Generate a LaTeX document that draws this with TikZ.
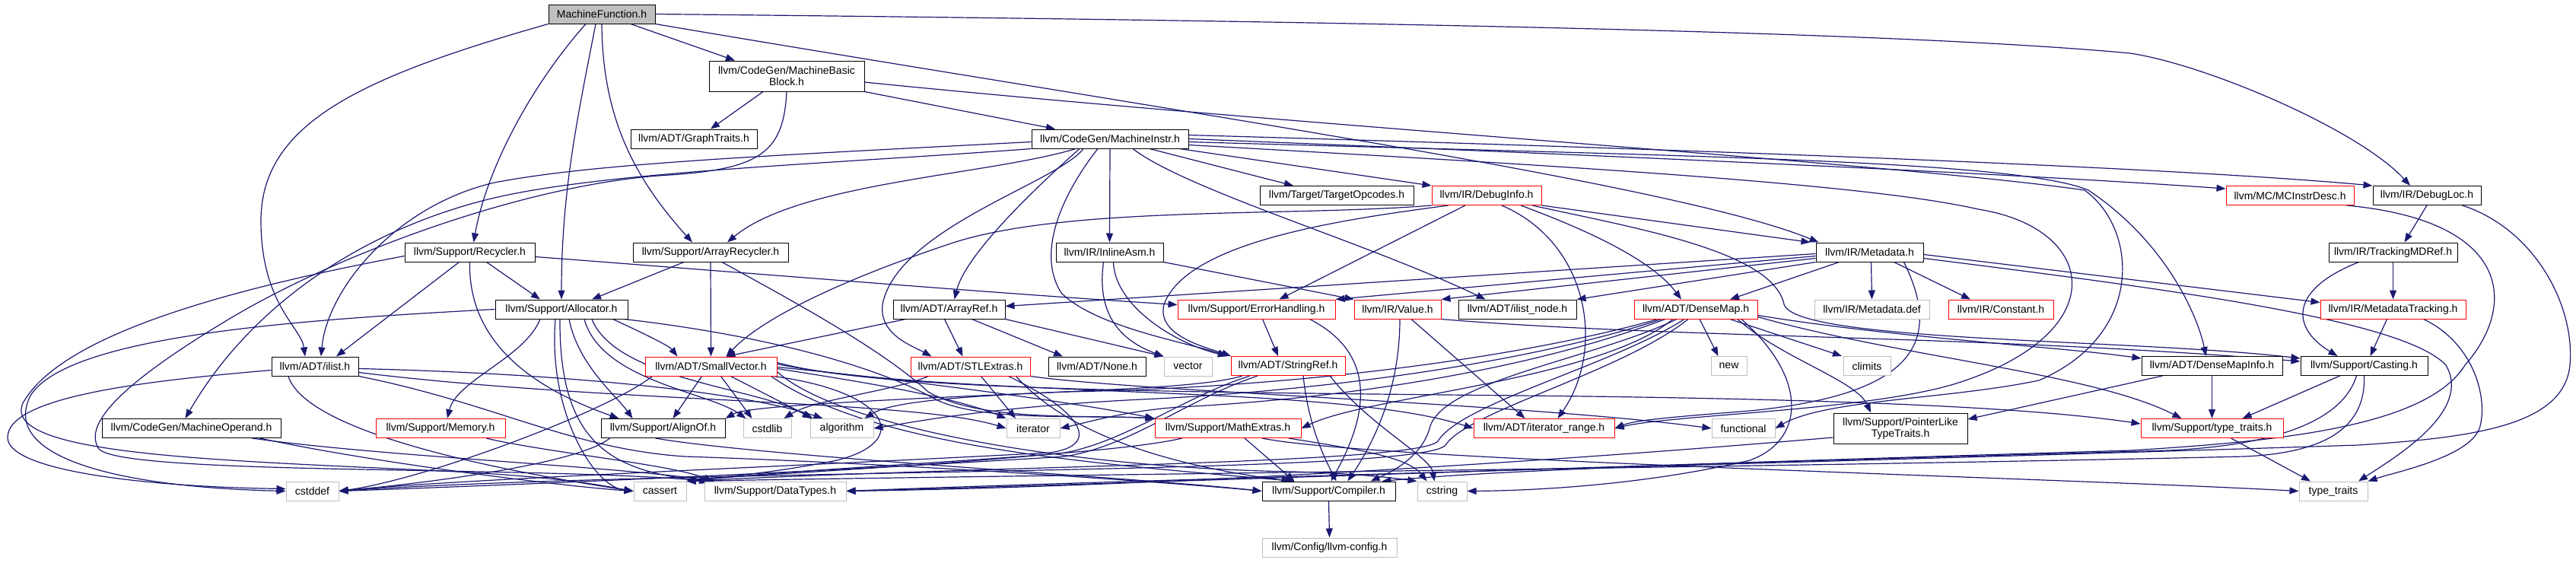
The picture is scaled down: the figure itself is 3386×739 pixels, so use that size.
\documentclass[tikz,border=0pt]{standalone}
\usepackage{fontspec}
\setmainfont{Liberation Sans}
\usetikzlibrary{arrows.meta}
\definecolor{eblue}{HTML}{191970}
\definecolor{gry}{HTML}{BFBFBF}
\definecolor{rdc}{HTML}{FF0000}
\pgfdeclarelayer{bg}
\pgfsetlayers{bg,main}
\begin{document}
\begin{tikzpicture}[x=1pt,y=-1pt,
 nd/.style={draw=black,line width=1.0pt,fill=white,rectangle,inner sep=0pt,minimum height=25pt,align=center,font={\fontsize{14}{15}\selectfont}},
 rdn/.style={nd,draw=rdc},
 gyn/.style={nd,draw=gry},
 edg/.style={draw=eblue,line width=1.2pt,-{Triangle[length=12pt,width=9pt]}}]
\useasboundingbox (0,0) rectangle (3386,739);
% nodes
\node[nd,fill=gry,minimum width=140pt] (MF) at (791,18.5) {MachineFunction.h};
\node[nd,minimum width=204pt,minimum height=40pt] (MBB) at (1034,100) {llvm/CodeGen/MachineBasic\\Block.h};
\node[nd,minimum width=166pt] (GT) at (912,182.5) {llvm/ADT/GraphTraits.h};
\node[nd,minimum width=206pt] (MI) at (1459,182.5) {llvm/CodeGen/MachineInstr.h};
\node[nd,minimum width=202pt] (TO) at (1757,257) {llvm/Target/TargetOpcodes.h};
\node[rdn,minimum width=144pt] (DI) at (1954,257) {llvm/IR/DebugInfo.h};
\node[rdn,minimum width=168pt] (MCID) at (3010,257) {llvm/MC/MCInstrDesc.h};
\node[nd,minimum width=142pt] (DL) at (3190,257) {llvm/IR/DebugLoc.h};
\node[nd,minimum width=171pt] (REC) at (617.5,331.5) {llvm/Support/Recycler.h};
\node[nd,minimum width=204pt] (AREC) at (934,331.5) {llvm/Support/ArrayRecycler.h};
\node[nd,minimum width=141pt] (IA) at (1458.5,331.5) {llvm/IR/InlineAsm.h};
\node[nd,minimum width=141pt] (MD) at (2457.5,331.5) {llvm/IR/Metadata.h};
\node[nd,minimum width=169pt] (TMD) at (3145.5,331.5) {llvm/IR/TrackingMDRef.h};
\node[nd,minimum width=174pt] (ALLOC) at (738,406.5) {llvm/Support/Allocator.h};
\node[nd,minimum width=147pt] (AR) at (1247.5,406.5) {llvm/ADT/ArrayRef.h};
\node[rdn,minimum width=207pt] (EH) at (1651.5,406.5) {llvm/Support/ErrorHandling.h};
\node[rdn,minimum width=114pt] (VAL) at (1837,406.5) {llvm/IR/Value.h};
\node[nd,minimum width=155pt] (ILN) at (1994.5,406.5) {llvm/ADT/ilist\_node.h};
\node[rdn,minimum width=162pt] (DM) at (2229,406.5) {llvm/ADT/DenseMap.h};
\node[gyn,minimum width=151pt] (MDDEF) at (2460.5,406.5) {llvm/IR/Metadata.def};
\node[rdn,minimum width=138pt] (CONST) at (2630,406.5) {llvm/IR/Constant.h};
\node[rdn,minimum width=191pt] (MDT) at (3145.5,406.5) {llvm/IR/MetadataTracking.h};
\node[nd,minimum width=114pt] (ILIST) at (414,481.5) {llvm/ADT/ilist.h};
\node[rdn,minimum width=173pt] (SV) at (934.5,481.5) {llvm/ADT/SmallVector.h};
\node[rdn,minimum width=157pt] (STL) at (1275.5,481.5) {llvm/ADT/STLExtras.h};
\node[nd,minimum width=128pt] (NONE) at (1442,481.5) {llvm/ADT/None.h};
\node[gyn,minimum width=63pt] (VEC) at (1561.5,481.5) {vector};
\node[rdn,minimum width=150pt] (SR) at (1693,481) {llvm/ADT/StringRef.h};
\node[gyn,minimum width=47pt] (NEW) at (2272.5,481) {new};
\node[gyn,minimum width=62pt] (CLIM) at (2454,481) {climits};
\node[nd,minimum width=185pt] (DMI) at (2907.5,481) {llvm/ADT/DenseMapInfo.h};
\node[nd,minimum width=167pt] (CAST) at (3107.5,481) {llvm/Support/Casting.h};
\node[nd,minimum width=235pt] (MO) at (251.5,563) {llvm/CodeGen/MachineOperand.h};
\node[rdn,minimum width=170pt] (MEM) at (579,563) {llvm/Support/Memory.h};
\node[nd,minimum width=163pt] (ALIGN) at (871.5,563) {llvm/Support/AlignOf.h};
\node[gyn,minimum width=63pt] (CSTDLIB) at (1008.5,563) {cstdlib};
\node[gyn,minimum width=83pt] (ALGO) at (1106.5,563) {algorithm};
\node[gyn,minimum width=70pt] (ITER) at (1358,563) {iterator};
\node[rdn,minimum width=192pt] (MATH) at (1614,563) {llvm/Support/MathExtras.h};
\node[rdn,minimum width=185pt] (ITR) at (2029.5,563) {llvm/ADT/iterator\_range.h};
\node[gyn,minimum width=83pt] (FUNC) at (2291.5,563) {functional};
\node[nd,minimum width=176pt,minimum height=40pt] (PLTT) at (2498,563) {llvm/Support/PointerLike\\TypeTraits.h};
\node[rdn,minimum width=187pt] (TT) at (2907.5,563) {llvm/Support/type\_traits.h};
\node[gyn,minimum width=69pt] (CSTDDEF) at (410.5,645.5) {cstddef};
\node[gyn,minimum width=69pt] (CASSERT) at (867.5,645.5) {cassert};
\node[gyn,minimum width=186pt] (DT) at (1019,645.5) {llvm/Support/DataTypes.h};
\node[nd,minimum width=175pt] (COMP) at (1746.5,645.5) {llvm/Support/Compiler.h};
\node[gyn,minimum width=65pt] (CSTRING) at (1895.5,645.5) {cstring};
\node[gyn,minimum width=90pt] (TYTR) at (3067,645.5) {type\_traits};
\node[gyn,minimum width=177pt] (CFG) at (1747.5,719.5) {llvm/Config/llvm-config.h};
\begin{pgfonlayer}{bg}
% MachineFunction.h
\draw[edg] (MF.south west) .. controls (480,100) and (343,160) .. (343,290) .. controls (343,400) and (396,430) .. ([xshift=-13pt]ILIST.north);
\draw[edg] ([xshift=-21pt]MF.south) .. controls (700,110) and (640,220) .. ([xshift=5pt]REC.north);
\draw[edg] ([xshift=-8pt]MF.south) .. controls (760,150) and (738,250) .. (ALLOC.north);
\draw[edg] (MF.south) .. controls (792,150) and (830,230) .. ([xshift=-24pt]AREC.north);
\draw[edg] ([xshift=38pt]MF.south) -- ([xshift=-68pt]MBB.north);
\draw[edg] (MF.east) .. controls (1800,28) and (2500,42) .. (2800,70) .. controls (2900,85) and (3100,170) .. ([xshift=-22pt]DL.north);
\draw[edg] (MF.south east) .. controls (1500,140) and (2200,240) .. ([xshift=-67pt]MD.north);
% MachineBasicBlock.h
\draw[edg] ([xshift=-31pt]MBB.south) -- ([xshift=22pt]GT.north);
\draw[edg] (MBB.south east) -- ([xshift=-72pt]MI.north);
\draw[edg] (MBB.south) .. controls (1030,200) and (1000,222) .. (880,230) .. controls (700,240) and (450,330) .. (300,420) .. controls (150,510) and (110,560) .. (130,590) .. controls (160,625) and (700,612) .. ([xshift=-88pt]DT.north);
\draw[edg] ([yshift=-8pt]MBB.east) .. controls (1700,165) and (2500,215) .. (2740,250) .. controls (2810,300) and (2820,440) .. (2680,500) .. controls (2560,525) and (2400,525) .. (FUNC.east);
% MachineInstr.h
\draw[edg] ([yshift=-4pt]MI.west) .. controls (1000,205) and (780,215) .. (650,240) .. controls (520,270) and (430,380) .. ([xshift=8pt]ILIST.north);
\draw[edg] (MI.south west) .. controls (1100,215) and (800,225) .. (650,260) .. controls (480,300) and (330,400) .. ([xshift=-8pt]MO.north);
\draw[edg] ([xshift=-45pt]MI.south) .. controls (1300,230) and (1050,240) .. ([xshift=22pt]AREC.north);
\draw[edg] ([xshift=-40pt]MI.south) .. controls (1380,230) and (1270,330) .. ([xshift=7pt]AR.north);
\draw[edg] ([xshift=-35pt]MI.south) .. controls (1390,240) and (1180,300) .. (1160,400) .. controls (1155,440) and (1200,455) .. ([xshift=-51pt]STL.north);
\draw[edg] ([xshift=-16pt]MI.south) .. controls (1400,250) and (1360,330) .. (1395,385) .. controls (1440,430) and (1560,450) .. ([xshift=-80pt]SR.north);
\draw[edg] (MI.south) -- (IA.north);
\draw[edg] ([xshift=30pt]MI.south) .. controls (1560,250) and (1800,320) .. ([xshift=-42pt]ILN.north);
\draw[edg] ([xshift=52pt]MI.south) -- ([xshift=-57pt]TO.north);
\draw[edg] ([xshift=-12pt]MI.south east) -- (DI.north west);
\draw[edg] (MI.east) .. controls (2000,200) and (2600,225) .. ([yshift=9pt]MCID.west);
\draw[edg] ([yshift=5pt]MI.east) .. controls (2000,190) and (2800,215) .. (DL.north west);
\draw[edg] ([yshift=-4pt]MI.east) .. controls (2200,205) and (2650,210) .. (2745,250) .. controls (2850,320) and (2890,420) .. ([xshift=-8pt]DMI.north);
\draw[edg] ([yshift=-8pt]MI.east) .. controls (2000,215) and (2450,240) .. (2600,275) .. controls (2760,300) and (2780,440) .. (2568,505) .. controls (2450,540) and (2200,545) .. (ITR.east);
% Recycler.h
\draw[edg] ([xshift=-14pt]REC.south) -- ([xshift=28pt]ILIST.north);
\draw[edg] ([xshift=22pt]REC.south) -- ([xshift=-28pt]ALLOC.north);
\draw[edg] ([yshift=-6pt]REC.east) .. controls (1000,360) and (1300,385) .. ([yshift=6pt]EH.west);
\draw[edg] (REC.south) .. controls (615,450) and (700,510) .. ([xshift=-58pt]ALIGN.north);
\draw[edg] ([yshift=-5pt]REC.west) .. controls (300,380) and (80,440) .. (30,530) .. controls (0,600) and (300,605) .. (600,620) .. controls (750,628) and (800,640) .. (CASSERT.west);
% Allocator.h
\draw[edg] ([xshift=-20pt]ALLOC.south east) .. controls (850,440) and (880,455) .. ([xshift=-44pt]SV.north);
\draw[edg] ([xshift=-28pt]ALLOC.south) .. controls (690,470) and (600,500) .. ([xshift=9pt]MEM.north);
\draw[edg] ([xshift=10pt]ALLOC.south) .. controls (760,480) and (810,520) .. ([xshift=-40pt]ALIGN.north);
\draw[edg] ([xshift=40pt]ALLOC.south) .. controls (810,500) and (1000,510) .. ([xshift=-40pt]ALGO.north);
\draw[edg] ([xshift=30pt]ALLOC.south) .. controls (790,500) and (930,515) .. ([xshift=-28pt]CSTDLIB.north);
\draw[edg] ([xshift=-8pt]ALLOC.south) .. controls (720,540) and (780,640) .. (CASSERT.west);
\draw[edg] ([xshift=-2pt]ALLOC.south) .. controls (735,580) and (800,620) .. ([xshift=-85pt]DT.north);
\draw[edg] ([xshift=-5pt]ALLOC.south east) .. controls (1000,440) and (1150,480) .. (1230,525) .. controls (1290,555) and (1430,545) .. (MATH.north west);
\draw[edg] (ALLOC.west) .. controls (400,420) and (90,440) .. (40,520) .. controls (0,600) and (150,640) .. (CSTDDEF.west);
% ArrayRecycler.h
\draw[edg] ([xshift=-35pt]AREC.south) -- ([xshift=40pt]ALLOC.north);
\draw[edg] (AREC.south) -- (SV.north);
\draw[edg] ([xshift=15pt]AREC.south) .. controls (1050,400) and (1160,460) .. (1220,515) .. controls (1290,555) and (1430,545) .. (MATH.north west);
% ilist.h
\draw[edg] ([yshift=-5pt]ILIST.west) .. controls (200,500) and (10,520) .. (10,575) .. controls (10,620) and (200,640) .. ([yshift=3pt]CSTDDEF.west);
\draw[edg] ([yshift=-3pt]ILIST.east) .. controls (700,490) and (960,510) .. ([xshift=-25pt]ALGO.north);
\draw[edg] ([yshift=-8pt]ILIST.east) .. controls (800,530) and (1200,525) .. (ITER.west);
\draw[edg] (ILIST.south east) .. controls (650,530) and (750,590) .. (900,600) .. controls (1200,610) and (1550,635) .. (COMP.west);
\draw[edg] ([xshift=-35pt]ILIST.south) .. controls (400,560) and (600,610) .. (CASSERT.west);
% MachineOperand.h, Memory.h, AlignOf.h
\draw[edg] ([xshift=80pt]MO.south) .. controls (500,600) and (800,612) .. ([xshift=-80pt]DT.north);
\draw[edg] ([xshift=90pt]MO.south) .. controls (500,610) and (750,640) .. (CASSERT.west);
\draw[edg] ([xshift=60pt]MEM.south) .. controls (720,595) and (880,610) .. ([xshift=-82pt]DT.north);
\draw[edg] ([xshift=-70pt]ALIGN.south) .. controls (760,610) and (560,635) .. (CSTDDEF.east);
\draw[edg] ([xshift=-10pt]ALIGN.south) .. controls (1000,600) and (1500,628) .. (COMP.west);
% SmallVector.h
\draw[edg] ([xshift=-12pt]SV.south) -- ([xshift=13pt]ALIGN.north);
\draw[edg] ([xshift=13pt]SV.south) -- ([xshift=-20pt]CSTDLIB.north);
\draw[edg] ([xshift=26pt]SV.south) -- ([xshift=-38pt]ALGO.north);
\draw[edg] ([yshift=-3pt]SV.east) .. controls (1120,500) and (1250,520) .. (ITER.north west);
\draw[edg] ([yshift=-1pt]SV.east) .. controls (1200,500) and (1420,530) .. (MATH.north west);
\draw[edg] ([yshift=3pt]SV.east) .. controls (1150,505) and (1400,510) .. (1600,520) .. controls (1800,530) and (1880,545) .. (ITR.west);
\draw[edg] ([yshift=5pt]SV.east) .. controls (1150,512) and (1500,515) .. (2000,520) .. controls (2500,525) and (2700,540) .. ([yshift=6pt]TT.west);
\draw[edg] ([xshift=-8pt]SV.south east) .. controls (1150,590) and (1450,610) .. ([xshift=-45pt]COMP.north);
\draw[edg] ([yshift=-7pt]SV.east) .. controls (1100,560) and (1400,615) .. (1700,620) .. controls (1780,622) and (1830,628) .. (CSTRING.north west);
\draw[edg] ([xshift=-5pt]SV.south east) .. controls (1170,515) and (1200,580) .. (1100,605) .. controls (1000,625) and (930,628) .. (CASSERT.north east);
\draw[edg] ([xshift=10pt]SV.south west) .. controls (800,540) and (560,630) .. (CSTDDEF.east);
% STLExtras.h
\draw[edg] ([xshift=-55pt]STL.south) .. controls (1170,515) and (1070,525) .. ([xshift=22pt]CSTDLIB.north);
\draw[edg] ([xshift=14pt]STL.south) -- ([xshift=-23pt]ITER.north);
\draw[edg] (STL.south east) .. controls (1500,515) and (2000,530) .. (FUNC.west);
\draw[edg] ([xshift=50pt]STL.south) .. controls (1420,540) and (1450,585) .. (1380,595) .. controls (1000,615) and (600,630) .. (CSTDDEF.east);
\draw[edg] ([xshift=60pt]STL.south) .. controls (1420,590) and (1600,620) .. ([xshift=-50pt]COMP.north);
% StringRef.h
\draw[edg] ([xshift=-60pt]SR.south) .. controls (1550,520) and (1200,510) .. ([xshift=30pt]ALGO.north);
\draw[edg] ([xshift=20pt]SR.south) .. controls (1720,560) and (1740,600) .. ([xshift=10pt]COMP.north);
\draw[edg] ([xshift=55pt]SR.south) .. controls (1800,560) and (1880,600) .. ([xshift=-10pt]CSTRING.north);
\draw[edg] ([xshift=-50pt]SR.south) .. controls (1560,520) and (1480,580) .. (1400,595) .. controls (1200,615) and (960,625) .. (CASSERT.north east);
\draw[edg] ([xshift=-40pt]SR.south) .. controls (1560,525) and (1490,585) .. (1400,600) .. controls (1000,625) and (600,640) .. (CSTDDEF.east);
% ErrorHandling.h, Value.h, InlineAsm.h
\draw[edg] ([xshift=8pt]EH.south) -- ([xshift=-13pt]SR.north);
\draw[edg] ([xshift=70pt]EH.south) .. controls (1820,470) and (1790,560) .. ([xshift=3pt]COMP.north);
\draw[edg] ([xshift=3pt]VAL.south) .. controls (1840,520) and (1800,590) .. ([xshift=25pt]COMP.north);
\draw[edg] ([xshift=18pt]VAL.south) -- ([xshift=-25pt]ITR.north);
\draw[edg] (VAL.south east) .. controls (2200,445) and (2600,440) .. ([yshift=6pt]CAST.west);
\draw[edg] (IA.south east) -- (VAL.north west);
\draw[edg] ([xshift=5pt]IA.south) .. controls (1465,400) and (1540,450) .. ([xshift=-80pt]SR.north);
\draw[edg] ([xshift=-8pt]IA.south) .. controls (1440,420) and (1480,450) .. (VEC.north west);
% ArrayRef.h
\draw[edg] ([xshift=-57pt]AR.south) -- ([xshift=20pt]SV.north);
\draw[edg] ([xshift=-6pt]AR.south) -- ([xshift=-10pt]STL.north);
\draw[edg] ([xshift=30pt]AR.south) -- ([xshift=-45pt]NONE.north);
\draw[edg] (AR.south east) -- (VEC.north west);
% DebugInfo.h
\draw[edg] (DI.south west) .. controls (1700,285) and (1400,270) .. (1250,320) .. controls (1100,370) and (1000,420) .. ([xshift=20pt]SV.north);
\draw[edg] ([xshift=-28pt]DI.south) -- ([xshift=30pt]EH.north);
\draw[edg] ([xshift=-50pt]DI.south) .. controls (1750,290) and (1560,320) .. (1530,400) .. controls (1520,440) and (1580,455) .. ([xshift=-75pt]SR.north);
\draw[edg] ([xshift=20pt]DI.south) .. controls (2090,320) and (2110,460) .. ([xshift=18pt]ITR.north);
\draw[edg] ([xshift=45pt]DI.south) .. controls (2080,300) and (2170,340) .. ([xshift=-19pt]DM.north);
\draw[edg] (DI.south east) -- ([xshift=-78pt]MD.north);
\draw[edg] ([xshift=60pt]DI.south) .. controls (2150,300) and (2330,330) .. (2345,400) .. controls (2360,450) and (2800,445) .. ([yshift=10pt]CAST.west);
% Metadata.h
\draw[edg] ([yshift=-2pt]MD.west) -- ([yshift=4pt]AR.east);
\draw[edg] ([yshift=-5pt]MD.west) -- (EH.north east);
\draw[edg] ([yshift=-8pt]MD.west) -- (VAL.north east);
\draw[edg] (MD.south west) -- (ILN.north east);
\draw[edg] ([xshift=-40pt]MD.south) -- ([xshift=45pt]DM.north);
\draw[edg] ([xshift=2pt]MD.south) -- (MDDEF.north);
\draw[edg] ([xshift=32pt]MD.south) -- ([xshift=-40pt]CONST.north);
\draw[edg] ([yshift=-3pt]MD.east) -- ([yshift=9pt]MDT.west);
\draw[edg] ([yshift=-8pt]MD.east) .. controls (2850,380) and (3160,420) .. (3215,480) .. controls (3250,540) and (3150,600) .. ([xshift=33pt]TYTR.north);
\draw[edg] ([xshift=45pt]MD.south) .. controls (2560,460) and (2500,520) .. (2300,540) .. controls (2200,548) and (2150,552) .. (ITR.east);
% DenseMap.h
\draw[edg] ([xshift=5pt]DM.south) -- ([xshift=-14pt]NEW.north);
\draw[edg] ([xshift=45pt]DM.south) -- ([xshift=-33pt]CLIM.north);
\draw[edg] ([yshift=-8pt]DM.east) .. controls (2500,445) and (2700,455) .. ([yshift=10pt]DMI.west);
\draw[edg] ([xshift=55pt]DM.south) .. controls (2340,470) and (2440,500) .. ([xshift=-39pt]PLTT.north);
\draw[edg] ([yshift=-10pt]DM.east) .. controls (2500,470) and (2750,490) .. ([xshift=-40pt]TT.north);
\draw[edg] ([xshift=-50pt]DM.south) .. controls (2000,470) and (1700,510) .. (1400,515) .. controls (1100,528) and (980,535) .. (ALIGN.north east);
\draw[edg] ([xshift=-45pt]DM.south) .. controls (2000,480) and (1720,515) .. (1500,525) .. controls (1300,535) and (1200,555) .. (ALGO.east);
\draw[edg] ([xshift=-40pt]DM.south) .. controls (2000,490) and (1750,525) .. (1550,535) .. controls (1480,540) and (1430,555) .. (ITER.east);
\draw[edg] ([xshift=-30pt]DM.south) .. controls (2100,500) and (1800,520) .. (MATH.east);
\draw[edg] ([xshift=-25pt]DM.south) .. controls (2100,470) and (1900,500) .. (1880,560) .. controls (1870,600) and (1830,620) .. ([xshift=55pt]COMP.north);
\draw[edg] ([xshift=-15pt]DM.south) .. controls (2120,480) and (1920,530) .. (1890,580) .. controls (1860,610) and (1300,612) .. (CASSERT.north east);
\draw[edg] ([xshift=-10pt]DM.south) .. controls (2130,490) and (1930,540) .. (1900,585) .. controls (1870,625) and (900,615) .. (CSTDDEF.east);
\draw[edg] ([xshift=60pt]DM.south) .. controls (2380,500) and (2370,580) .. (2300,605) .. controls (2150,640) and (2000,645) .. (CSTRING.east);
% DenseMapInfo.h, Casting.h
\draw[edg] (DMI.south) -- (TT.north);
\draw[edg] ([xshift=-65pt]DMI.south) -- ([yshift=12pt]PLTT.east);
\draw[edg] ([xshift=-32pt]CAST.south) -- ([xshift=40pt]TT.north);
\draw[edg] ([xshift=-10pt]CAST.south) .. controls (3080,550) and (3000,585) .. (2850,592) .. controls (2400,605) and (2000,615) .. ([xshift=70pt]COMP.north);
\draw[edg] (CAST.south) .. controls (3110,560) and (3060,595) .. (2950,600) .. controls (2300,615) and (1300,625) .. (CASSERT.north east);
% DebugLoc.h, MCInstrDesc.h
\draw[edg] (DL.south) -- ([xshift=15pt]TMD.north);
\draw[edg] ([xshift=-25pt]DL.south east) .. controls (3330,300) and (3385,400) .. (3378,480) .. controls (3370,560) and (3250,575) .. (3100,585) .. controls (2500,605) and (1500,630) .. (DT.east);
\draw[edg] ([xshift=-10pt]MCID.south east) .. controls (3300,290) and (3310,400) .. (3240,480) .. controls (3190,560) and (3000,580) .. (2800,592) .. controls (2200,610) and (1500,635) .. (DT.east);
% TrackingMDRef.h, MetadataTracking.h
\draw[edg] (TMD.south) -- (MDT.north);
\draw[edg] ([xshift=-45pt]TMD.south) .. controls (3010,380) and (3010,430) .. ([xshift=-35pt]CAST.north);
\draw[edg] ([xshift=-8pt]MDT.south) -- ([xshift=8pt]CAST.north);
\draw[edg] ([xshift=40pt]MDT.south) .. controls (3250,450) and (3270,520) .. (3260,560) .. controls (3250,600) and (3150,620) .. (TYTR.north east);
% PointerLikeTypeTraits.h, type_traits.h, MathExtras.h, Compiler.h
\draw[edg] ([yshift=-12pt]PLTT.west) .. controls (2000,610) and (1500,640) .. (DT.east);
\draw[edg] ([xshift=25pt]TT.south) -- ([xshift=-30pt]TYTR.north);
\draw[edg] ([xshift=22pt]MATH.south) -- ([xshift=-45pt]COMP.north);
\draw[edg] ([xshift=45pt]MATH.south) .. controls (1800,605) and (2700,628) .. (TYTR.west);
\draw[edg] ([xshift=-60pt]MATH.south) .. controls (1450,600) and (1100,612) .. (CASSERT.north east);
\draw[edg] ([xshift=80pt]MATH.south) .. controls (1780,590) and (1850,600) .. ([xshift=-20pt]CSTRING.north);
\draw[edg] (COMP.south) -- (CFG.north);
\end{pgfonlayer}
\end{tikzpicture}
\end{document}
